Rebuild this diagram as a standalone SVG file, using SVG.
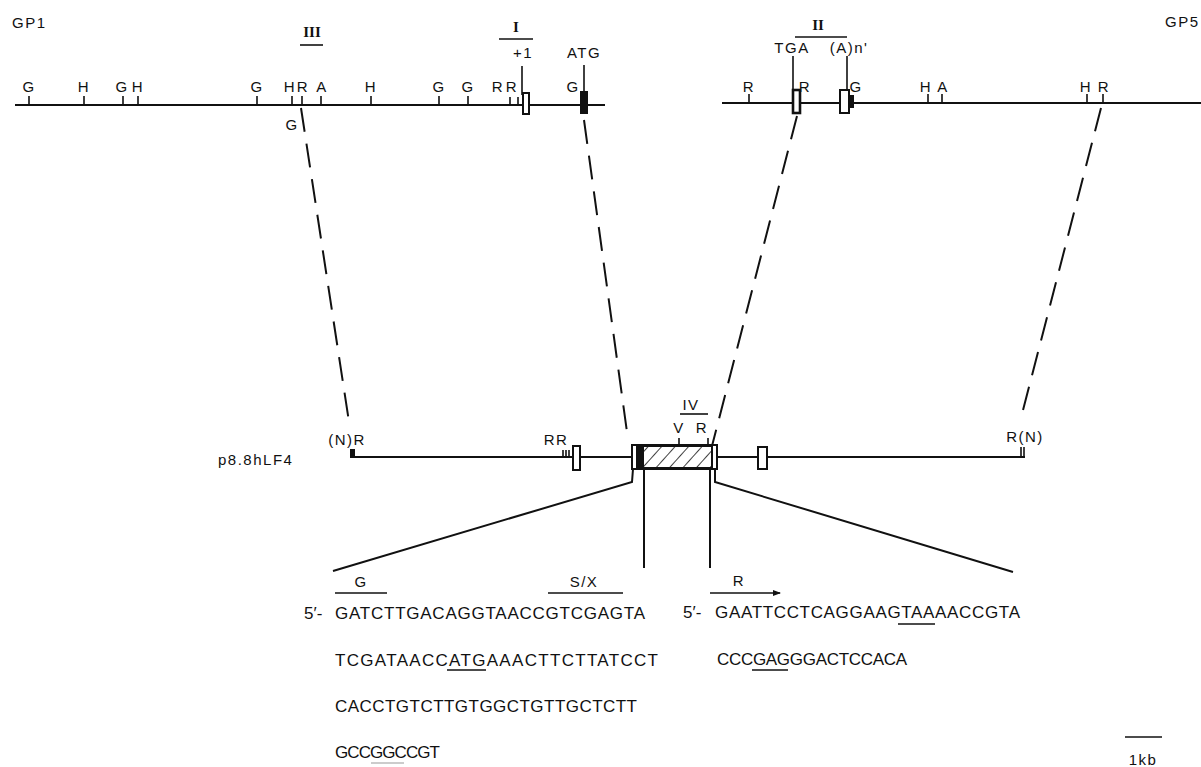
<svg xmlns="http://www.w3.org/2000/svg" width="1201" height="767" viewBox="0 0 1201 767">
<style>
.ln{stroke:#111;stroke-width:2;fill:none}
.tk{stroke:#111;stroke-width:1.6;fill:none}
.bx{stroke:#111;stroke-width:2;fill:#fff}
.dash{stroke:#111;stroke-width:2;fill:none;stroke-dasharray:24 12}
.t{font-family:"Liberation Sans",Arial,sans-serif;font-size:15px;fill:#111;letter-spacing:1.5px}
.s{font-family:"Liberation Sans",Arial,sans-serif;font-size:17px;fill:#111}
.r{font-family:"Liberation Serif","Times New Roman",serif;font-size:15px;font-weight:bold;fill:#111}
.m{text-anchor:middle}
</style>
<defs>
<pattern id="hatch" patternUnits="userSpaceOnUse" width="10" height="10" patternTransform="rotate(42)">
<line x1="0" y1="0" x2="0" y2="10" stroke="#111" stroke-width="1.6"/>
</pattern>
<marker id="ah" markerWidth="8" markerHeight="6" refX="7" refY="3" orient="auto" markerUnits="userSpaceOnUse">
<path d="M0,0 L8,3 L0,6 Z" fill="#111"/>
</marker>
</defs>

<g id="map-gp1">
<text class="t" x="12" y="28">GP1</text>
<line class="ln" x1="15" y1="105" x2="605" y2="105"/>
<path class="tk" d="M29,96V105M84,96V105M123,96V105M138,96V105M257,96V105M292,96V105M302,96V105M321,96V105M371,96V105M439,96V105M468,96V105M510,97V105M518,97V105"/>
<text class="t m" x="29" y="92">G</text>
<text class="t m" x="84" y="92">H</text>
<text class="t m" x="122" y="92">G</text>
<text class="t m" x="138" y="92">H</text>
<text class="t m" x="257" y="92">G</text>
<text class="t m" x="290" y="92">H</text>
<text class="t m" x="303" y="92">R</text>
<text class="t m" x="322" y="92">A</text>
<text class="t m" x="371" y="92">H</text>
<text class="t m" x="439" y="92">G</text>
<text class="t m" x="468" y="92">G</text>
<text class="t m" x="498" y="92">R</text>
<text class="t m" x="512" y="92">R</text>
<text class="t m" x="573" y="92">G</text>
<text class="t m" x="292" y="130">G</text>
<text class="r m" x="312" y="37">III</text>
<line class="tk" x1="300" y1="45" x2="323" y2="45"/>
<text class="r m" x="516" y="32">I</text>
<line class="tk" x1="499" y1="39" x2="533" y2="39"/>
<text class="t m" x="523" y="58">+1</text>
<text class="t m" x="584" y="58">ATG</text>
<line class="tk" x1="522" y1="66" x2="522" y2="95"/>
<line class="tk" x1="584" y1="65" x2="584" y2="92"/>
<rect class="bx" x="523" y="93" width="6" height="21"/>
<rect x="580" y="91" width="8" height="23" fill="#111"/>
</g>

<g id="map-gp5">
<text class="t" x="1165" y="27">GP5</text>
<line class="ln" x1="722" y1="103" x2="1201" y2="103"/>
<path class="tk" d="M749,94V103M928,94V103M942,94V103M1087,94V103M1103,94V103"/>
<text class="t m" x="749" y="92">R</text>
<text class="t m" x="805" y="92">R</text>
<text class="t m" x="856" y="92">G</text>
<text class="t m" x="926" y="92">H</text>
<text class="t m" x="943" y="92">A</text>
<text class="t m" x="1086" y="92">H</text>
<text class="t m" x="1104" y="92">R</text>
<text class="r m" x="818" y="30">II</text>
<line class="tk" x1="795" y1="37" x2="847" y2="37"/>
<text class="t m" x="792" y="53">TGA</text>
<text class="t m" x="849" y="53">(A)n'</text>
<line class="tk" x1="793" y1="56" x2="793" y2="92"/>
<line class="tk" x1="847" y1="56" x2="847" y2="92"/>
<rect x="793" y="90" width="7" height="23" fill="#fff" stroke="#111" stroke-width="2.6"/>
<rect class="bx" x="840" y="90" width="9" height="23"/>
<rect x="849" y="95" width="5" height="13" fill="#111"/>
</g>

<g id="clone-p8.8hLF4">
<text class="t" x="218" y="465">p8.8hLF4</text>
<line class="ln" x1="352" y1="457" x2="1025" y2="457"/>
<rect x="350" y="449" width="5" height="9" fill="#111"/>
<text class="t m" x="347" y="445">(N)R</text>
<text class="t m" x="556" y="445">RR</text>
<path class="tk" d="M563,450V457M566,450V457M569,450V457M1021,447V456M1024,447V456"/>
<rect class="bx" x="573" y="446" width="7" height="24"/>
<rect class="bx" x="632" y="445" width="85" height="24"/>
<rect x="636" y="446" width="7" height="22" fill="#111"/>
<rect x="643" y="446" width="69" height="22" fill="url(#hatch)" stroke="#111" stroke-width="2"/>
<path class="tk" d="M679,438V445M708,438V445"/>
<text class="t m" x="679" y="433">V</text>
<text class="t m" x="702" y="433">R</text>
<text class="t m" x="691" y="410">IV</text>
<line class="tk" x1="680" y1="414" x2="708" y2="414"/>
<rect class="bx" x="758" y="447" width="9" height="22"/>
<text class="t m" x="1025" y="442">R(N)</text>
</g>

<g id="connectors">
<line class="dash" x1="301" y1="108" x2="349" y2="422"/>
<line class="dash" x1="584" y1="120" x2="627" y2="432"/>
<line class="dash" x1="797" y1="116" x2="712" y2="446"/>
<line class="dash" x1="1101" y1="108" x2="1021" y2="418"/>
<polyline class="ln" points="633,469 632,482 333,571"/>
<line class="ln" x1="644" y1="469" x2="644" y2="568"/>
<line class="ln" x1="710" y1="469" x2="710" y2="568"/>
<polyline class="ln" points="715,469 715,482 1013,572"/>
</g>

<g id="seq-left">
<text class="t m" x="361" y="587">G</text>
<line class="tk" x1="335" y1="593" x2="387" y2="593"/>
<text class="t m" x="584" y="587">S/X</text>
<line class="tk" x1="548" y1="593" x2="623" y2="593"/>
<text class="s" x="304" y="619">5′-</text>
<text class="s" x="335" y="619" textLength="310" lengthAdjust="spacing">GATCTTGACAGGTAACCGTCGAGTA</text>
<text class="s" x="335" y="666" textLength="323" lengthAdjust="spacing">TCGATAACCATGAAACTTCTTATCCT</text>
<line class="tk" x1="447" y1="670" x2="486" y2="670"/>
<text class="s" x="335" y="712" textLength="302" lengthAdjust="spacing">CACCTGTCTTGTGGCTGTTGCTCTT</text>
<text class="s" x="335" y="758" textLength="105" lengthAdjust="spacing">GCCGGCCGT</text>
<line x1="371" y1="763" x2="404" y2="763" stroke="#bbb" stroke-width="1.5"/>
</g>

<g id="seq-right">
<text class="t m" x="739" y="586">R</text>
<line class="tk" x1="710" y1="593" x2="780" y2="593" marker-end="url(#ah)"/>
<text class="s" x="683" y="618">5′-</text>
<text class="s" x="715" y="618" textLength="305" lengthAdjust="spacing">GAATTCCTCAGGAAGTAAAACCGTA</text>
<line class="tk" x1="898" y1="624" x2="935" y2="624"/>
<text class="s" x="717" y="665" textLength="190" lengthAdjust="spacing">CCCGAGGGACTCCACA</text>
<line class="tk" x1="752" y1="670" x2="788" y2="670"/>
</g>

<g id="scale">
<line class="tk" x1="1125" y1="737" x2="1162" y2="737"/>
<text class="t m" x="1143" y="765">1kb</text>
</g>
</svg>
